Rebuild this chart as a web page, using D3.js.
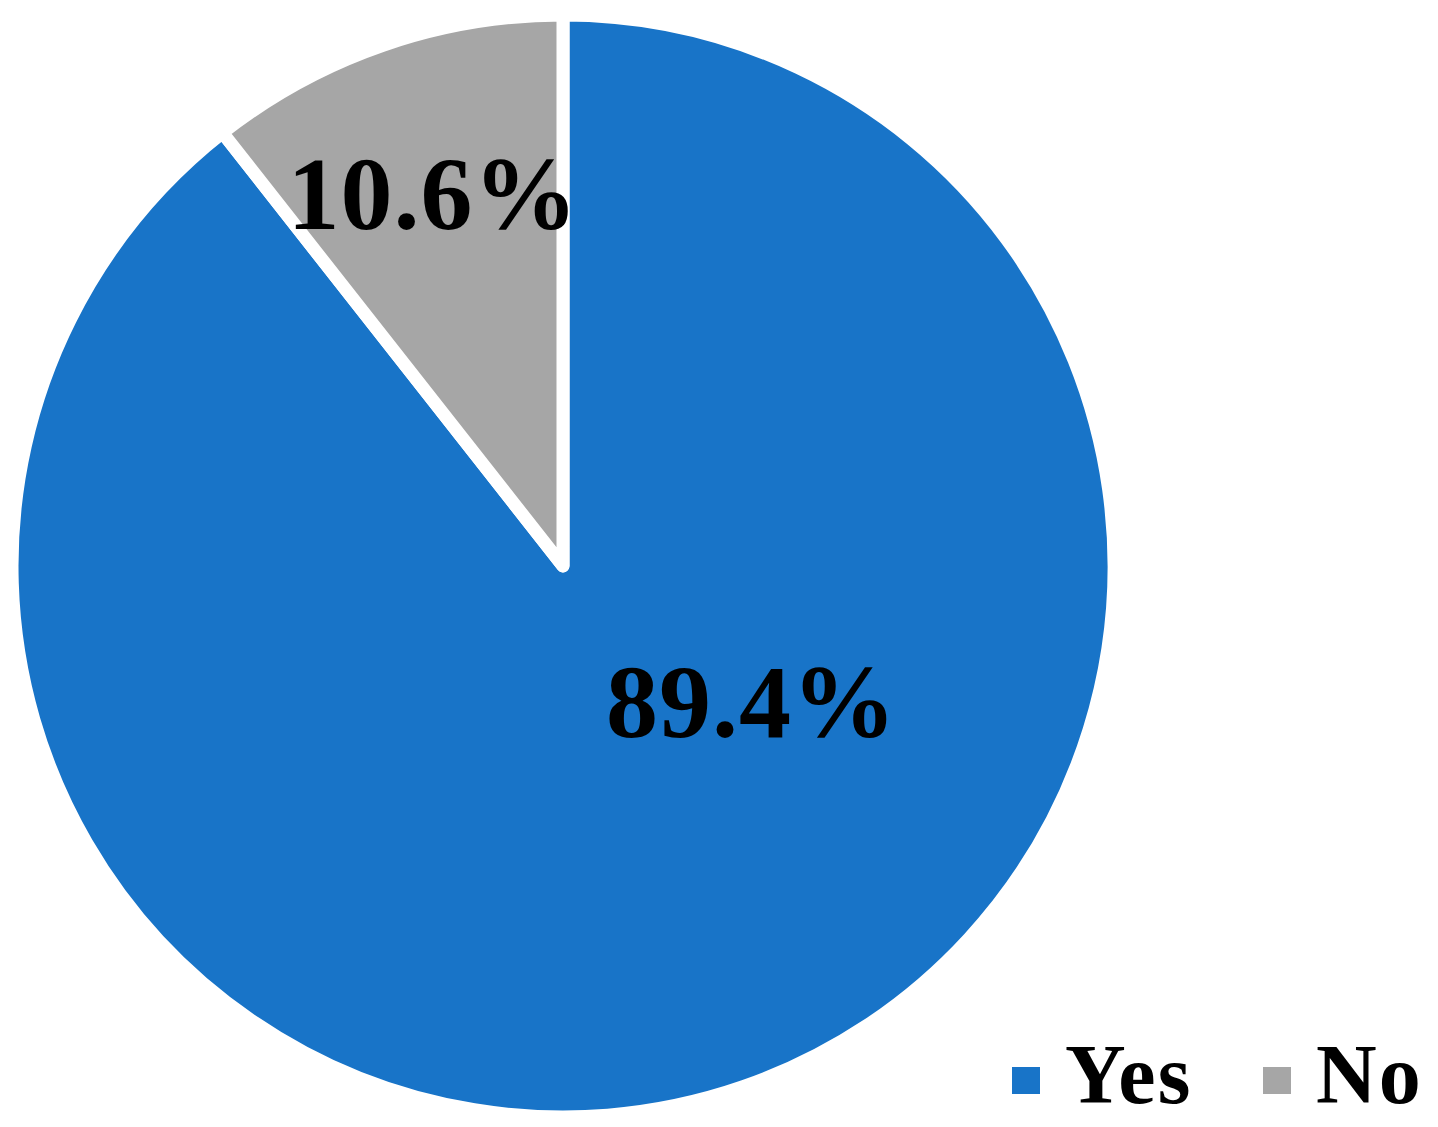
<!DOCTYPE html>
<html>
<head>
<meta charset="utf-8">
<script src="https://cdn.jsdelivr.net/npm/d3@7"></script>
<style>
  body { margin: 0; background: #fff; }
  text { font-family: "Liberation Serif", "Times New Roman", serif; font-weight: bold; }
</style>
</head>
<body>
<svg id="chart" width="1438" height="1127"></svg>
<script>
var categories = ['Yes', 'No'];
var values = [89.4, 10.6];
var colors = ['#1874C8', '#A6A6A6'];

var width = 1438, height = 1127;
var cx = 563, cy = 566, radius = 551;
// label placement (radius, angle in degrees clockwise from 12 o'clock)
var labelPos = [{ r: 233, a: 126 }, { r: 393, a: -19.3 }];

var svg = d3.select('#chart');
var data = categories.map(function(c, i) { return { name: c, value: values[i], color: colors[i] }; });

var pie = d3.pie().sort(null).value(function(d) { return d.value; });
var arc = d3.arc().innerRadius(0).outerRadius(radius);

var g = svg.append('g').attr('transform', 'translate(' + cx + ',' + cy + ')');

g.selectAll('path').data(pie(data)).enter()
  .append('path')
  .attr('d', arc)
  .style('fill', function(d) { return d.data.color; })
  .style('stroke', '#ffffff')
  .style('stroke-width', 13)
  .style('stroke-linejoin', 'round');

g.selectAll('.lbl').data(pie(data)).enter()
  .append('text')
  .attr('class', 'lbl')
  .attr('x', function(d, i) { return labelPos[i].r * Math.sin(labelPos[i].a * Math.PI / 180); })
  .attr('y', function(d, i) { return -labelPos[i].r * Math.cos(labelPos[i].a * Math.PI / 180); })
  .attr('dy', '0.33em')
  .attr('text-anchor', 'middle')
  .style('font-size', '104px')
  .style('letter-spacing', '1px')
  .style('fill', '#000')
  .text(function(d) { return d3.format('.1f')(d.data.value) + '%'; });

// legend
var legendX = [1012, 1263];
var leg = svg.selectAll('.legend').data(data).enter()
  .append('g')
  .attr('class', 'legend')
  .attr('transform', function(d, i) { return 'translate(' + legendX[i] + ',1067)'; });
leg.append('rect')
  .attr('width', 28).attr('height', 27)
  .style('fill', function(d) { return d.color; });
leg.append('text')
  .attr('x', 53).attr('y', 36)
  .style('font-size', '84px')
  .style('letter-spacing', '2px')
  .style('fill', '#000')
  .text(function(d) { return d.name; });
</script>
</body>
</html>
